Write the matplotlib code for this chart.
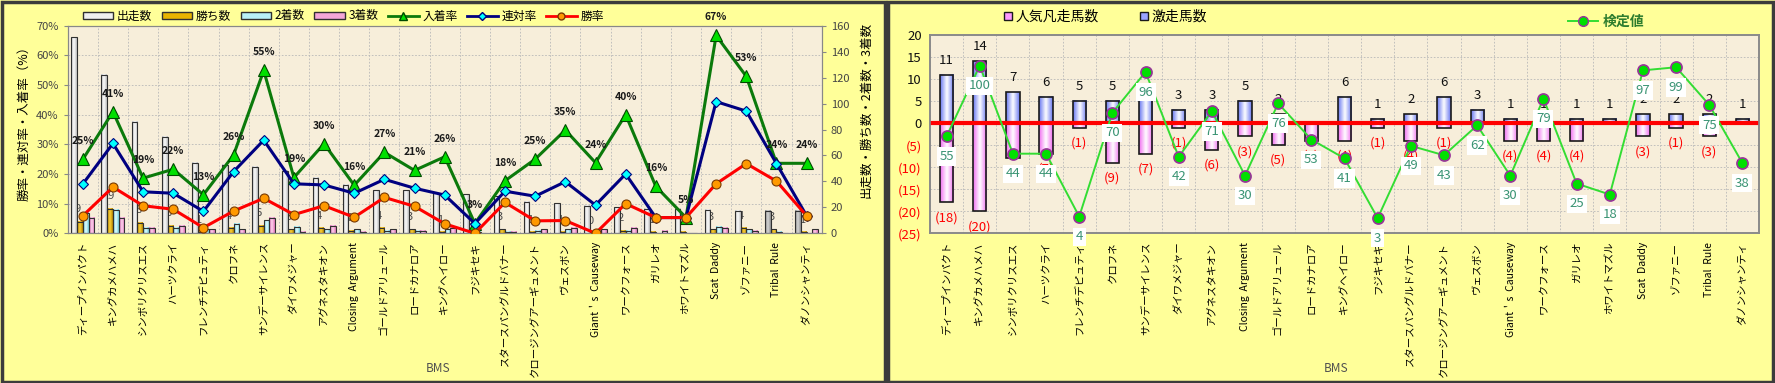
import numpy as np
import matplotlib
matplotlib.use('Agg')
import matplotlib.pyplot as plt
from matplotlib.colors import LinearSegmentedColormap
from matplotlib.lines import Line2D
from matplotlib.patches import Patch, Rectangle

plt.rcParams['font.family'] = ['Noto Sans CJK JP', 'DejaVu Sans']

# --- data ---
sires = ['ディープインパクト', 'キングカメハメハ', 'シンボリクリスエス', 'ハーツクライ',
         'フレンチデピュティ', 'クロフネ', 'サンデーサイレンス', 'ダイワメジャー',
         'アグネスタキオン', 'Closing  Argument', 'ゴールドアリュール', 'ロードカナロア',
         'キングヘイロー', 'フジキセキ', 'スタースパングルドバナー',
         'クロージングアーギュメント', 'ヴェスボン', 'Giant\uff07s  Causeway',
         'ワークフォース', 'ガリレオ', 'ホワイトマズル', 'Scat  Daddy', 'ゾファニー',
         'Tribal  Rule', 'ダノンシャンティ']

starts = [151, 122, 86, 74, 54, 53, 51, 48, 43, 37, 33, 33, 31, 30, 29, 24, 23,
          21, 20, 19, 19, 18, 17, 17, 17]
wins = [9, 19, 8, 6, 1, 4, 6, 3, 4, 2, 4, 3, 1, 0, 3, 1, 1, 0, 2, 1, 1, 3, 4, 3, 1]
seconds = [16, 18, 4, 4, 3, 7, 10, 5, 3, 3, 2, 2, 3, 1, 1, 2, 3, 2, 2, 0, 0, 5, 3, 1, 0]
thirds = [12, 12, 4, 6, 3, 3, 12, 1, 6, 1, 3, 2, 4, 0, 1, 3, 4, 3, 4, 2, 0, 4, 2, 0, 3]

place_rate = [24.9, 41.0, 18.6, 21.6, 13.0, 26.4, 54.9, 18.8, 30.2, 16.2, 27.3, 21.2,
              25.8, 3.3, 17.7, 25.0, 34.8, 23.8, 40.0, 15.8, 5.3, 66.7, 52.9, 23.6, 23.6]
quinella_rate = [16.6, 30.3, 14.0, 13.5, 7.4, 20.8, 31.4, 16.7, 16.3, 13.5, 18.2, 15.2,
                 12.9, 3.3, 14.2, 12.5, 17.4, 9.5, 20.0, 5.3, 5.3, 44.4, 41.2, 23.5, 5.9]
win_rate = [5.9, 15.6, 9.3, 8.1, 1.9, 7.5, 11.8, 6.3, 9.3, 5.4, 12.1, 9.1, 3.2, 0.0,
            10.4, 4.2, 4.3, 0.0, 10.0, 5.3, 5.3, 16.7, 23.5, 17.6, 5.9]

surge = [11, 14, 7, 6, 5, 5, 8, 3, 3, 5, 2, 0, 6, 1, 2, 6, 3, 1, 1, 1, 1, 2, 2, 2, 1]
flop = [18, 20, 8, 7, 1, 9, 7, 1, 6, 3, 5, 4, 4, 1, 4, 1, 0, 4, 4, 4, 0, 3, 1, 3, 0]
test_val = [55, 100, 44, 44, 4, 70, 96, 42, 71, 30, 76, 53, 41, 3, 49, 43, 62, 30, 79,
            25, 18, 97, 99, 75, 38]

grey_sires = ['Tribal  Rule', 'ダノンシャンティ']

FIG_BG = '#FFFF99'
PLOT_BG = '#F7EEDA'
GRID = dict(color='#B8B8B8', lw=0.6, ls=(0, (2, 2)))


def shade(ax, bars, edge_col, mid_col):
    # fake the horizontal gradient fill of the original bars
    cmap = LinearSegmentedColormap.from_list('g', [edge_col, mid_col, edge_col])
    grad = np.linspace(0, 1, 32).reshape(1, -1)
    for b in bars:
        h = b.get_height()
        if h == 0:
            continue
        x0, y0, w = b.get_x(), b.get_y(), b.get_width()
        ax.imshow(grad, cmap=cmap, extent=(x0, x0 + w, y0, y0 + h),
                  aspect='auto', interpolation='bicubic',
                  zorder=b.get_zorder() - 0.01)


fig = plt.figure(figsize=(17.75, 3.83), dpi=100, facecolor=FIG_BG)
W, H = 1775.0, 383.0
x = np.arange(len(sires))

# ================= left chart =================
ax_cnt = fig.add_axes([67.7 / W, 1 - 233.3 / H, 754 / W, 207.6 / H])
ax_cnt.set_facecolor(PLOT_BG)
ax_pct = ax_cnt.twinx()
ax_pct.set_zorder(ax_cnt.get_zorder() + 1)
ax_pct.patch.set_visible(False)

ax_cnt.yaxis.tick_right()
ax_pct.yaxis.tick_left()

bw = 0.19
b_st = ax_cnt.bar(x - 1.5 * bw, starts, bw, fc='none', ec='#303030', lw=0.8, zorder=2)
b_w = ax_cnt.bar(x - 0.5 * bw, wins, bw, fc='none', ec='#303030', lw=0.8, zorder=2)
b_s = ax_cnt.bar(x + 0.5 * bw, seconds, bw, fc='none', ec='#303030', lw=0.8, zorder=2)
b_t = ax_cnt.bar(x + 1.5 * bw, thirds, bw, fc='none', ec='#303030', lw=0.8, zorder=2)
shade(ax_cnt, [b for b, s in zip(b_st, sires) if s not in grey_sires], '#BDBDBD', '#FFFFFF')
shade(ax_cnt, [b for b, s in zip(b_st, sires) if s in grey_sires], '#8C8C8C', '#D8D8D8')
shade(ax_cnt, b_w, '#B88A00', '#FFD23A')
shade(ax_cnt, b_s, '#6CCFE0', '#E8FFFF')
shade(ax_cnt, b_t, '#E070B8', '#FFD6F0')

# faint win-count labels, partly hidden behind the bars as in the original
for i, wv in enumerate(wins):
    ax_cnt.annotate(str(wv), (i - 0.5 * bw, wv), xytext=(-1.5, 9),
                    textcoords='offset points', ha='center', va='center',
                    fontsize=8, color='#4A4A4A', zorder=1.5)

ax_pct.plot(x, place_rate, color='#0B7A0B', lw=2.2, marker='^', ms=8,
            mfc='#00E000', mec='#004A00', mew=0.8, zorder=5)
ax_pct.plot(x, quinella_rate, color='#000080', lw=2.2, marker='D', ms=5,
            mfc='#00FFFF', mec='#000080', mew=0.8, zorder=6)
ax_pct.plot(x, win_rate, color='#FF0000', lw=2.2, marker='o', ms=6.5,
            mfc='#FF9900', mec='#7A3A00', mew=0.8, zorder=7)

for i, v in enumerate(place_rate):
    ax_pct.annotate(f'{v:.0f}%', (i, v), xytext=(0, 13), textcoords='offset points',
                    ha='center', va='center', fontsize=7.5, fontweight='bold',
                    color='#1A1A1A', zorder=8)

ax_cnt.set_xlim(-0.5, len(sires) - 0.5)
ax_cnt.set_ylim(0, 160)
ax_pct.set_ylim(0, 70)
ax_cnt.set_yticks(np.arange(0, 161, 20))
ax_pct.set_yticks(np.arange(0, 71, 10))
ax_pct.set_yticklabels([f'{t}%' for t in range(0, 71, 10)])

# grid lines: category boundaries and every 10 %
ax_cnt.set_xticks(np.arange(-0.5, len(sires), 1), minor=True)
ax_cnt.set_yticks(np.linspace(0, 160, 8), minor=True)
ax_cnt.grid(which='minor', **GRID)
ax_cnt.set_axisbelow(True)
ax_cnt.tick_params(which='minor', length=0)

ax_cnt.set_xticks(x)
ax_cnt.set_xticklabels(sires, rotation=90, fontsize=7.5)
ax_cnt.tick_params(axis='x', length=0, pad=6)
ax_cnt.tick_params(axis='y', labelsize=8, labelcolor='#444444', color='#888888', length=3)
ax_pct.tick_params(axis='y', labelsize=8, labelcolor='#444444', color='#888888', length=3)
for ax in (ax_cnt, ax_pct):
    for sp in ax.spines.values():
        sp.set_color('#888888')

fig.text(24 / W, 1 - 120 / H, '勝率・連対率・入着率（%）', rotation=90, ha='center',
         va='center', fontsize=9)
fig.text(866 / W, 1 - 110 / H, '出走数・勝ち数・2着数・3着数', rotation=90, ha='center',
         va='center', fontsize=9)
fig.text(438 / W, 1 - 368 / H, 'BMS', ha='center', va='center', fontsize=8.5,
         color='#505050')

left_handles = [
    Patch(fc='#F0F0F0', ec='#303030'), Patch(fc='#E8B400', ec='#303030'),
    Patch(fc='#B8F0F8', ec='#303030'), Patch(fc='#F4A6D8', ec='#303030'),
    Line2D([], [], color='#0B7A0B', lw=2, marker='^', ms=6, mfc='#00E000', mec='#004A00'),
    Line2D([], [], color='#000080', lw=2, marker='D', ms=4, mfc='#00FFFF', mec='#000080'),
    Line2D([], [], color='#FF0000', lw=2, marker='o', ms=5, mfc='#FF9900', mec='#7A3A00'),
]
fig.legend(left_handles, ['出走数', '勝ち数', '2着数', '3着数', '入着率', '連対率', '勝率'],
           loc='center left', bbox_to_anchor=(78 / W, 1 - 16 / H), ncol=7,
           frameon=False, fontsize=8.5, handlelength=2.6, handleheight=0.55,
           columnspacing=0.8, handletextpad=0.3, borderaxespad=0)

# ================= right chart =================
ax_r = fig.add_axes([930 / W, 1 - 233.3 / H, 829 / W, 198.3 / H])
ax_r.set_facecolor(PLOT_BG)
b_up = ax_r.bar(x, surge, 0.4, fc='none', ec='#1A1A1A', lw=1.2, zorder=2)
b_dn = ax_r.bar(x, np.negative(flop), 0.4, fc='none', ec='#1A1A1A', lw=1.2, zorder=2)
shade(ax_r, b_up, '#6A78F0', '#FFFFFF')
shade(ax_r, b_dn, '#F070F0', '#FFFFFF')
ax_r.axhline(0, color='#FF0000', lw=3, zorder=3)

for i, s in enumerate(surge):
    if s > 0:
        ax_r.annotate(str(s), (i, s), xytext=(0, 10.5), textcoords='offset points',
                      ha='center', va='center', fontsize=9.5, color='#111111', zorder=4)
for i, f in enumerate(flop):
    if f > 0:
        ax_r.annotate(f'({f})', (i, -f), xytext=(0, -11), textcoords='offset points',
                      ha='center', va='center', fontsize=9.5, color='#FF0000', zorder=4)

ax_r.set_xlim(-0.5, len(sires) - 0.5)
ax_r.set_ylim(-25, 20)
yt = np.arange(-25, 21, 5)
ax_r.set_yticks(yt)
ax_r.set_yticklabels([f'({abs(t)})' if t < 0 else str(t) for t in yt])
for lab, t in zip(ax_r.get_yticklabels(), yt):
    lab.set_color('#FF0000' if t < 0 else '#111111')
ax_r.tick_params(axis='y', labelsize=9.5, length=0, pad=6)
ax_r.set_xticks(x)
ax_r.set_xticklabels(sires, rotation=90, fontsize=7.5)
ax_r.tick_params(axis='x', length=0, pad=6)
ax_r.set_xticks(np.arange(-0.5, len(sires), 1), minor=True)
ax_r.grid(which='minor', axis='x', **GRID)
ax_r.grid(which='major', axis='y', **GRID)
ax_r.tick_params(which='minor', length=0)
ax_r.set_axisbelow(True)

ax_t = ax_r.twinx()
ax_t.set_ylim(-6.65, 119.5)
ax_t.set_yticks([])
ax_t.plot(x, test_val, color='#33DD33', lw=1.4, marker='o', ms=8, mfc='#00E000',
          mec='#993399', mew=1.2, zorder=5)
for i, v in enumerate(test_val):
    ax_t.annotate(str(v), (i, v), xytext=(0, -14.5), textcoords='offset points',
                  ha='center', va='center', fontsize=9.5, color='#3A9474', zorder=6,
                  bbox=dict(boxstyle='square,pad=0.2', fc='white', ec='none'))

for ax in (ax_r, ax_t):
    for sp in ax.spines.values():
        sp.set_color('#8A8A8A')
        sp.set_linewidth(1.2)

fig.text(1336 / W, 1 - 369 / H, 'BMS', ha='center', va='center', fontsize=8.5,
         color='#505050')

leg1 = fig.legend([Line2D([], [], marker='s', ls='none', mfc='#FF99FF', mec='#1A1A1A', ms=6),
                   Line2D([], [], marker='s', ls='none', mfc='#9AA4FF', mec='#1A1A1A', ms=6)],
                  ['人気凡走馬数', '激走馬数'], loc='center left',
                  bbox_to_anchor=(996 / W, 1 - 17 / H), ncol=2, frameon=False,
                  fontsize=10, columnspacing=2.8, handletextpad=0.1, handlelength=0.9,
                  borderaxespad=0)
leg2 = fig.legend([Line2D([], [], color='#33DD33', lw=1.4, marker='o', ms=7, mfc='#00E000',
                          mec='#993399')],
                  ['検定値'], loc='center left', bbox_to_anchor=(1562 / W, 1 - 22 / H),
                  frameon=False, fontsize=10, handlelength=2.2, handletextpad=0.3,
                  borderaxespad=0)
for t in leg2.get_texts():
    t.set_color('#2E7D2E')
    t.set_fontweight('bold')

# panel frames
fig.patches.extend([
    Rectangle((1.5 / W, 1.5 / H), 883 / W, 380 / H, transform=fig.transFigure,
              fill=False, ec='#3C3C3C', lw=2.5),
    Rectangle((888 / W, 1.5 / H), 885 / W, 380 / H, transform=fig.transFigure,
              fill=False, ec='#3C3C3C', lw=2.5),
])

fig.savefig('out.png', dpi=100, facecolor=fig.get_facecolor())
